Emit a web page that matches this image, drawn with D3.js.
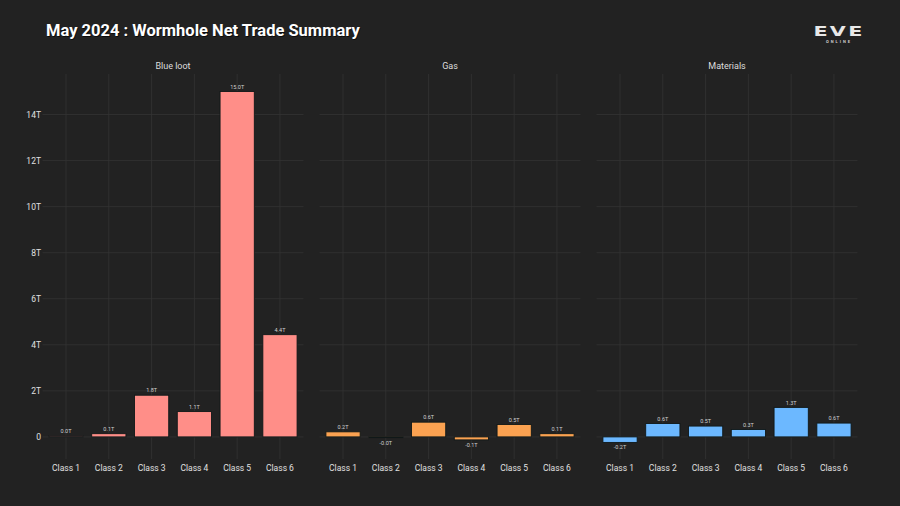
<!DOCTYPE html>
<html>
<head>
<meta charset="utf-8">
<script src="https://cdn.jsdelivr.net/npm/d3@7"></script>
<style>
  body { margin: 0; background: #222222; }
  svg { display: block; }
</style>
</head>
<body>
<div id="chart"></div>
<script>
const classes = ['Class 1', 'Class 2', 'Class 3', 'Class 4', 'Class 5', 'Class 6'];
const facets = ['Blue loot', 'Gas', 'Materials'];
const blueLoot = [0.045, 0.14, 1.81, 1.1, 15.0, 4.44];
const gas = [0.22, -0.03, 0.64, -0.13, 0.54, 0.14];
const materials = [-0.24, 0.58, 0.47, 0.32, 1.28, 0.6];
const yTicks = [0, 2, 4, 6, 8, 10, 12, 14];
const colors = ['#ff8e88', '#fba251', '#6cb8ff'];

const seriesValues = [blueLoot, gas, materials];

const width = 900;
const height = 506;
const font = 'Roboto, "DejaVu Sans", sans-serif';

const svg = d3.select('#chart')
    .append('svg')
    .attr('width', width)
    .attr('height', height);

svg.append('rect').attr('width', width).attr('height', height).attr('fill', '#222222');

// title, with a small drop shadow
svg.append('text')
    .attr('x', 46.8).attr('y', 36.8)
    .attr('fill', '#0c0c0c')
    .attr('font-family', font).attr('font-weight', 'bold').attr('font-size', 16.5)
    .text('May 2024 : Wormhole Net Trade Summary');
svg.append('text')
    .attr('x', 46).attr('y', 36)
    .attr('fill', '#ffffff')
    .attr('font-family', font).attr('font-weight', 'bold').attr('font-size', 16.5)
    .text('May 2024 : Wormhole Net Trade Summary');

// logo
svg.append('text')
    .attr('x', 839).attr('y', 36)
    .attr('text-anchor', 'middle')
    .attr('fill', '#e8e8e8')
    .attr('font-family', '"DejaVu Sans", sans-serif').attr('font-weight', 'bold')
    .attr('font-size', 18).attr('letter-spacing', 2)
    .attr('transform', 'translate(839,36) scale(1.15,0.8) translate(-839,-36)')
    .text('EVE');
svg.append('text')
    .attr('x', 839).attr('y', 43)
    .attr('text-anchor', 'middle')
    .attr('fill', '#cfcfcf')
    .attr('font-family', font).attr('font-weight', 'bold')
    .attr('font-size', 4).attr('letter-spacing', 2)
    .text('ONLINE');

const panelLefts = [42.5, 319.5, 596.5];
const panelWidth = 261;
const plotTop = 74;
const plotBottom = 459;

const y = d3.scaleLinear()
    .domain([-0.96, 15.76])
    .range([plotBottom, plotTop]);

const fmt = v => {
    if (v < 0 && v > -0.05) return '-0.0T';
    if (Math.abs(v) < 0.05) return '0.0T';
    return v.toFixed(1) + 'T';
};

facets.forEach((name, i) => {
    const g = svg.append('g').attr('transform', `translate(${panelLefts[i]},0)`);
    const x = d3.scalePoint()
        .domain(classes)
        .range([0, panelWidth])
        .padding(0.55);
    const barW = x.step() * 0.8;

    // grid
    g.selectAll('.hgrid')
        .data(yTicks)
        .enter()
        .append('line')
        .attr('x1', 0).attr('x2', panelWidth)
        .attr('y1', d => y(d)).attr('y2', d => y(d))
        .attr('stroke', '#343434').attr('stroke-width', 0.8);
    g.selectAll('.vgrid')
        .data(classes)
        .enter()
        .append('line')
        .attr('x1', d => x(d)).attr('x2', d => x(d))
        .attr('y1', plotTop).attr('y2', plotBottom)
        .attr('stroke', '#343434').attr('stroke-width', 0.8);

    // facet label
    g.append('text')
        .attr('x', panelWidth / 2).attr('y', 69)
        .attr('text-anchor', 'middle')
        .attr('fill', '#dddddd')
        .attr('font-family', font).attr('font-size', 9)
        .text(name);

    const data = classes.map((c, k) => ({ c, v: seriesValues[i][k] }));

    g.selectAll('.bar')
        .data(data)
        .enter()
        .append('rect')
        .attr('x', d => x(d.c) - barW / 2)
        .attr('width', barW)
        .attr('y', d => y(Math.max(0, d.v)))
        .attr('height', d => Math.abs(y(d.v) - y(0)))
        .attr('fill', colors[i])
        .attr('stroke', '#101818').attr('stroke-width', 0.9);

    g.selectAll('.lbl')
        .data(data)
        .enter()
        .append('text')
        .attr('x', d => x(d.c))
        .attr('y', d => d.v >= 0 ? y(d.v) - 2.8 : y(d.v) + 7)
        .attr('text-anchor', 'middle')
        .attr('fill', '#d0d0d0')
        .attr('font-family', font).attr('font-size', 5.5)
        .text(d => fmt(d.v));

    // x labels
    g.selectAll('.xl')
        .data(classes)
        .enter()
        .append('text')
        .attr('x', d => x(d))
        .attr('y', 471)
        .attr('text-anchor', 'middle')
        .attr('fill', '#e0e0e0')
        .attr('font-family', font).attr('font-size', 8.5)
        .text(d => d);

    if (i === 0) {
        svg.selectAll('.yl')
            .data(yTicks)
            .enter()
            .append('text')
            .attr('x', 41)
            .attr('y', d => y(d) + 3)
            .attr('text-anchor', 'end')
            .attr('fill', '#e0e0e0')
            .attr('font-family', font).attr('font-size', 8.5)
            .text(d => d === 0 ? '0' : d + 'T');
    }
});
</script>
</body>
</html>
